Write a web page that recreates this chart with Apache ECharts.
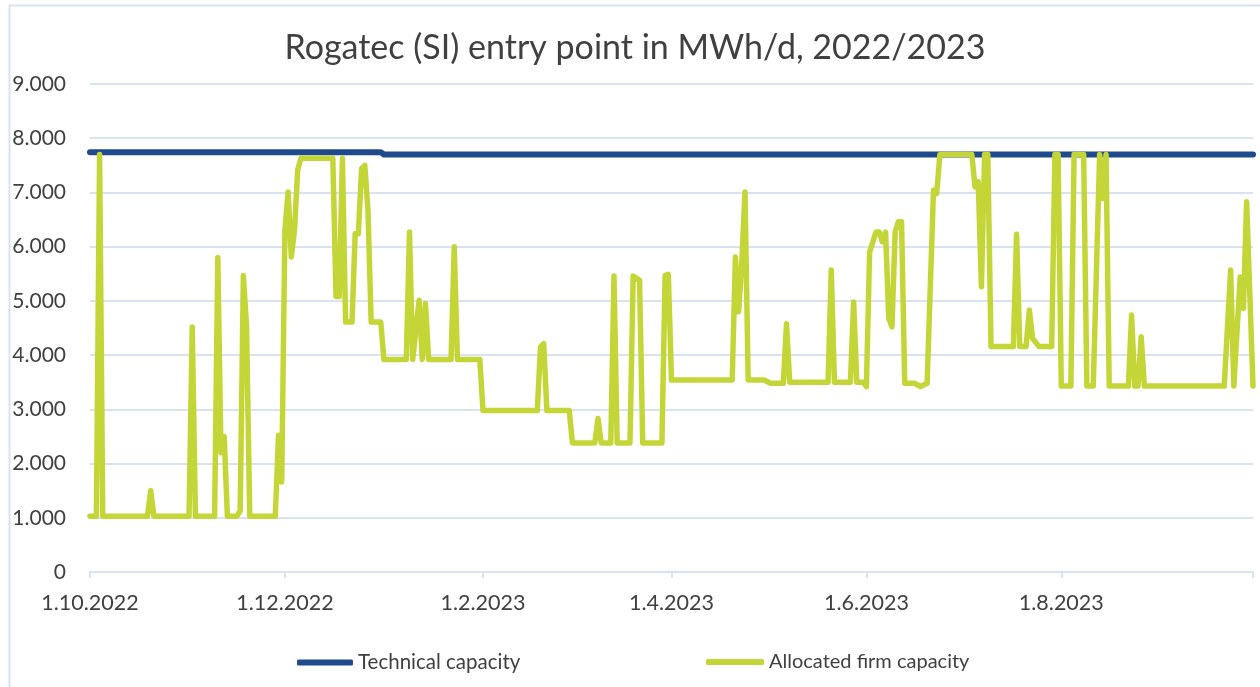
<!DOCTYPE html>
<html>
<head>
<meta charset="utf-8">
<script src="https://cdn.jsdelivr.net/npm/echarts@6/dist/echarts.min.js"></script>
<style>
html,body{margin:0;padding:0;background:#fff;}
#chart{width:1260px;height:687px;}
</style>
</head>
<body>
<div id="chart"></div>
<script>
const titleText = 'Rogatec (SI) entry point in MWh/d, 2022/2023';
const seriesNames = ['Technical capacity', 'Allocated firm capacity'];

const techDates = ['2022-10-01', '2022-12-31', '2023-01-01', '2023-09-30'];
const techValues = [7740, 7740, 7700, 7700];

const allocDates = [
  '2022-10-01','2022-10-03','2022-10-04','2022-10-05','2022-10-19','2022-10-20','2022-10-21',
  '2022-11-01','2022-11-02','2022-11-03','2022-11-09','2022-11-10','2022-11-11','2022-11-12','2022-11-13',
  '2022-11-16','2022-11-17','2022-11-18','2022-11-19','2022-11-20','2022-11-28','2022-11-29','2022-11-30',
  '2022-12-01','2022-12-02','2022-12-03','2022-12-04','2022-12-05','2022-12-06','2022-12-16','2022-12-17',
  '2022-12-18','2022-12-19','2022-12-20','2022-12-22','2022-12-23','2022-12-24','2022-12-25','2022-12-26',
  '2022-12-27','2022-12-28','2022-12-31',
  '2023-01-01','2023-01-08','2023-01-09','2023-01-10','2023-01-12','2023-01-13','2023-01-14','2023-01-15',
  '2023-01-22','2023-01-23','2023-01-24','2023-01-31',
  '2023-02-01','2023-02-18','2023-02-19','2023-02-20','2023-02-21','2023-02-28',
  '2023-03-01','2023-03-08','2023-03-09','2023-03-10','2023-03-13','2023-03-14','2023-03-15','2023-03-19',
  '2023-03-20','2023-03-22','2023-03-23','2023-03-29','2023-03-30','2023-03-31',
  '2023-04-01','2023-04-20','2023-04-21','2023-04-22','2023-04-23','2023-04-24','2023-04-25','2023-04-30',
  '2023-05-02','2023-05-06','2023-05-07','2023-05-08','2023-05-20','2023-05-21','2023-05-22','2023-05-27',
  '2023-05-28','2023-05-29','2023-05-31',
  '2023-06-01','2023-06-02','2023-06-04','2023-06-05','2023-06-06','2023-06-07','2023-06-08','2023-06-09',
  '2023-06-10','2023-06-11','2023-06-12','2023-06-13','2023-06-16','2023-06-18','2023-06-20','2023-06-22',
  '2023-06-23','2023-06-24',
  '2023-07-04','2023-07-05','2023-07-06','2023-07-07','2023-07-08','2023-07-09','2023-07-10','2023-07-17',
  '2023-07-18','2023-07-19','2023-07-21','2023-07-22','2023-07-23','2023-07-25','2023-07-29','2023-07-30',
  '2023-07-31',
  '2023-08-01','2023-08-04','2023-08-05','2023-08-08','2023-08-09','2023-08-11','2023-08-13','2023-08-14',
  '2023-08-15','2023-08-16','2023-08-22','2023-08-23','2023-08-24','2023-08-25','2023-08-26','2023-08-27',
  '2023-09-21','2023-09-23','2023-09-24','2023-09-26','2023-09-27','2023-09-28','2023-09-30'
];
const allocValues = [
  1030,1030,7700,1030,1030,1500,1030,
  1030,4520,1030,1030,5800,2200,2500,1030,
  1030,1130,5470,4520,1030,1030,2520,1660,
  6300,7010,5810,6300,7410,7630,7630,5080,
  5080,7630,4610,4610,6240,6240,7440,7500,
  6670,4610,4610,
  3920,3920,6270,3920,5010,3920,4950,3920,
  3920,6000,3920,3920,
  2980,2980,4150,4210,2980,2980,
  2380,2380,2830,2380,2380,5460,2380,2380,
  5460,5380,2380,2380,5470,5490,
  3540,3540,5810,4800,5700,7010,3540,3540,
  3480,3480,4580,3500,3500,5570,3500,3500,
  4980,3500,3500,
  3420,5900,6270,6270,6090,6270,4680,4520,
  6270,6460,6460,3480,3480,3420,3480,7040,
  6980,7700,
  7700,7100,7200,5260,7700,7700,4160,4160,
  6230,4160,4160,4830,4310,4160,4160,7700,
  7700,
  3430,3430,7700,7700,3430,3430,7700,6890,
  7700,3430,3430,4740,3430,3430,4340,3430,
  3430,5570,3430,5440,4860,6830,3430
];

const xTickDates = ['2022-10-01','2022-12-01','2023-02-01','2023-04-01','2023-06-01','2023-08-01'];
const xAxisStart = '2022-10-01';
const xAxisEnd = '2023-09-30';
const yMin = 0, yMax = 9000, yStep = 1000;

function ts(s) { const p = s.split('-').map(Number); return new Date(p[0], p[1] - 1, p[2]).getTime(); }
function fmtThousands(v) { return String(v).replace(/\B(?=(\d{3})+(?!\d))/g, '.'); }
function fmtDate(v) { const d = new Date(v); return d.getDate() + '.' + (d.getMonth() + 1) + '.' + d.getFullYear(); }

const techData = techDates.map((d, i) => [ts(d), techValues[i]]);
const allocData = allocDates.map((d, i) => [ts(d), allocValues[i]]);
const gridColor = '#D9E2F3';
const textColor = '#404040';
const fontFam = 'Lato, "Open Sans", sans-serif';

const chart = echarts.init(document.getElementById('chart'), null, { renderer: 'canvas' });
chart.setOption({
  animation: false,
  backgroundColor: '#ffffff',
  graphic: [{
    type: 'rect', left: 7, top: 3, silent: true,
    shape: { width: 1300, height: 720 },
    style: { fill: 'none', stroke: gridColor, lineWidth: 2 }
  }],
  title: {
    text: titleText, left: 630, top: 26, textAlign: 'center',
    textStyle: { fontFamily: fontFam, fontSize: 34, fontWeight: 'normal', color: textColor }
  },
  legend: [{
    data: [seriesNames[0]], left: 297, top: 652, padding: 0, itemWidth: 56, itemHeight: 6, icon: 'roundRect',
    textStyle: { fontFamily: fontFam, fontSize: 20.5, color: textColor }
  }, {
    data: [seriesNames[1]], left: 706, top: 652, padding: 0, itemWidth: 58, itemHeight: 6, icon: 'roundRect',
    textStyle: { fontFamily: fontFam, fontSize: 20, color: textColor }
  }],
  grid: { left: 90, right: 7, top: 84, bottom: 115, containLabel: false },
  xAxis: {
    type: 'value', min: ts(xAxisStart), max: ts(xAxisEnd),
    axisLine: { show: true, lineStyle: { color: gridColor, width: 2 } },
    axisTick: { show: true, length: 6, lineStyle: { color: gridColor, width: 2 },
      customValues: xTickDates.map(ts).concat([ts(xAxisEnd)]) },
    axisLabel: { customValues: xTickDates.map(ts), formatter: fmtDate, margin: 20,
      fontFamily: fontFam, fontSize: 21.5, color: textColor },
    splitLine: { show: false }
  },
  yAxis: {
    type: 'value', min: yMin, max: yMax, interval: yStep,
    axisLine: { show: false }, axisTick: { show: false },
    axisLabel: { formatter: fmtThousands, margin: 24, fontFamily: fontFam, fontSize: 21, color: textColor },
    splitLine: { show: true, lineStyle: { color: gridColor, width: 2 } }
  },
  series: [{
    name: seriesNames[0], type: 'line', data: techData, symbol: 'none',
    color: '#1F4A8C',
    lineStyle: { width: 6, color: '#1F4A8C', cap: 'round', join: 'round' }
  }, {
    name: seriesNames[1], type: 'line', data: allocData, symbol: 'none',
    color: '#C4D637',
    lineStyle: { width: 5.5, color: '#C4D637', cap: 'round', join: 'round' }
  }]
});
</script>
</body>
</html>
